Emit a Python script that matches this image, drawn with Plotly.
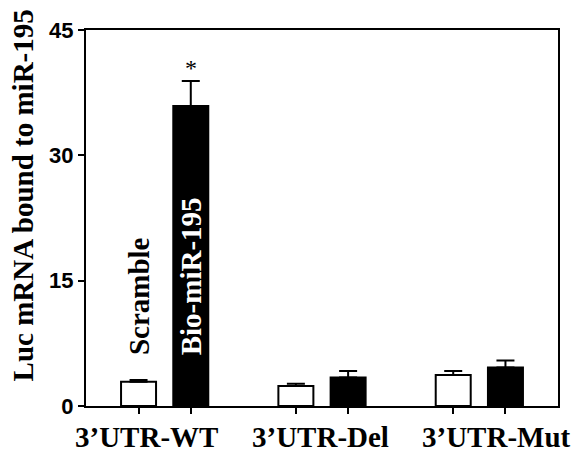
import numpy as np
import plotly.graph_objects as go

groups = ["3’UTR-WT", "3’UTR-Del", "3’UTR-Mut"]
scramble = [2.9, 2.4, 3.7]
scramble_err = [0.2, 0.25, 0.5]
bio = [35.9, 3.4, 4.6]
bio_err = [3.0, 0.8, 0.85]
y_ticks = [0, 15, 30, 45]
series_names = ["Scramble", "Bio-miR-195"]

BARGAP = 0.336
GROUPGAP = 0.33
xpos = np.arange(len(groups))
half = (1 - BARGAP) / 4
label_xshift = [-18, -2, 17]  # group labels are spread slightly wider than the groups

SERIF = "Times New Roman, Liberation Serif, serif"
SANS = "Arial, Liberation Sans, sans-serif"

fig = go.Figure()
fig.add_trace(go.Bar(
    x=xpos, y=scramble, name=series_names[0],
    marker=dict(color="white", line=dict(color="black", width=2)),
    error_y=dict(type="data", array=scramble_err, arrayminus=[0] * 3, symmetric=False,
                 color="black", thickness=2, width=9),
))
fig.add_trace(go.Bar(
    x=xpos, y=bio, name=series_names[1],
    marker=dict(color="black", line=dict(color="black", width=2)),
    error_y=dict(type="data", array=bio_err, arrayminus=[0] * 3, symmetric=False,
                 color="black", thickness=2, width=9),
))

tickvals = []
for i in xpos:
    tickvals += [i - half, i + half]

# page body has an 8px margin, so the figure is sized/offset to compensate
fig.update_layout(
    template="none",
    width=575, height=445,
    margin=dict(l=78, r=25, t=22, b=47, pad=0),
    plot_bgcolor="white", paper_bgcolor="white",
    barmode="group", bargap=BARGAP, bargroupgap=GROUPGAP,
    showlegend=False,
    xaxis=dict(range=[-0.5, 2.5], tickvals=tickvals, ticktext=[""] * len(tickvals),
               ticks="outside", ticklen=6, tickwidth=2, tickcolor="black",
               showline=True, linewidth=2, linecolor="black", mirror=True,
               showgrid=False, zeroline=False, automargin=False),
    yaxis=dict(range=[0, 45], tickvals=y_ticks, ticks="outside", ticklen=6, tickwidth=2,
               tickcolor="black", showline=True, linewidth=2, linecolor="black", mirror=True,
               showgrid=False, zeroline=False, automargin=False,
               tickfont=dict(family=SANS, size=22, color="black", weight="bold")),
)

# y title
fig.add_annotation(text="Luc mRNA bound to miR-195", textangle=-90,
                   xref="paper", yref="paper", x=0, y=0.56, xanchor="center", yanchor="middle",
                   xshift=-63, showarrow=False,
                   font=dict(family=SERIF, size=29, color="black", weight="bold"))

# group labels
for i, g, dx in zip(xpos, groups, label_xshift):
    fig.add_annotation(text=g, x=i, xref="x", y=0, yref="paper", yanchor="middle",
                       xshift=dx, yshift=-31, showarrow=False,
                       font=dict(family=SERIF, size=29, color="black", weight="bold"))

# series labels above / inside first group
LABEL_Y = 5.8
fig.add_annotation(text=series_names[0], textangle=-90, x=xpos[0] - half, y=LABEL_Y,
                   xref="x", yref="y", yanchor="bottom", xanchor="center", showarrow=False,
                   font=dict(family=SERIF, size=29, color="black", weight="bold"))
fig.add_annotation(text=series_names[1], textangle=-90, x=xpos[0] + half, y=LABEL_Y,
                   xref="x", yref="y", yanchor="bottom", xanchor="center", showarrow=False,
                   font=dict(family=SERIF, size=29, color="white", weight="bold"))

# significance star
fig.add_annotation(text="*", x=xpos[0] + half, y=bio[0] + bio_err[0], xref="x", yref="y",
                   yanchor="bottom", yshift=-2, showarrow=False,
                   font=dict(family=SERIF, size=24, color="black"))

fig.write_html("out.html")
